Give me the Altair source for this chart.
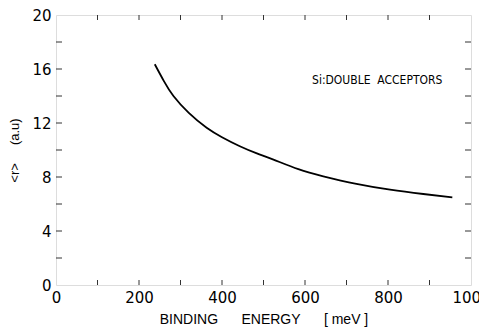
import altair as alt
import pandas as pd

# Curve
energy = [238, 260, 283, 320, 363, 400, 443, 484, 524, 584, 644, 724, 805, 885, 955]
radius = [16.35, 15.1, 14.0, 12.75, 11.65, 10.95, 10.28, 9.75, 9.29, 8.58, 8.05, 7.49, 7.06, 6.74, 6.49]

x_labels = [0, 200, 400, 600, 800, 1000]
y_labels = [0, 4, 8, 12, 16, 20]
x_ticks = [100, 200, 300, 400, 500, 600, 700, 800, 900]
y_ticks = [2, 4, 6, 8, 10, 12, 14, 16, 18]

note_text = ["Si:DOUBLE  ACCEPTORS"]
note_x = [617]
note_y = [15.2]

NB = "\u00a0"
x_title = "BINDING" + NB * 6 + "ENERGY" + NB * 6 + "[" + NB + "meV" + NB + "]"
y_title = "<r>" + NB * 5 + "(a.u)"

W, H = 415, 270
FONT = "Liberation Sans"
NUMFONT = "DejaVu Sans"

xs = alt.Scale(domain=[0, 1000], nice=False, zero=False)
ys = alt.Scale(domain=[0, 20], nice=False, zero=False)

curve_df = pd.DataFrame({"E": energy, "r": radius})
xt_df = pd.DataFrame({"E": x_ticks})
yt_df = pd.DataFrame({"r": y_ticks})
note_df = pd.DataFrame({"E": note_x, "r": note_y, "t": [t.replace("  ", NB + NB) for t in note_text]})

xaxis = alt.Axis(values=x_labels, format="d", ticks=False, domain=False, grid=False,
                 labelFontSize=15, labelFont=NUMFONT, labelColor="black",
                 labelPadding=5, labelFlush=False,
                 title=x_title, titleFont=FONT,
                 titleFontSize=14, titleFontWeight="normal", titleColor="black",
                 titlePadding=7)
yaxis = alt.Axis(values=y_labels, format="d", ticks=False, domain=False, grid=False,
                 labelFontSize=15, labelFont=NUMFONT, labelColor="black",
                 labelPadding=5, labelFlush=False,
                 title=y_title, titleFont=FONT, titleFontSize=13,
                 titleFontWeight="normal", titleColor="black", titlePadding=10)

line = alt.Chart(curve_df).mark_line(color="black", strokeWidth=1.8,
                                     interpolate="natural").encode(
    x=alt.X("E:Q", scale=xs, axis=xaxis),
    y=alt.Y("r:Q", scale=ys, axis=yaxis),
)

note = alt.Chart(note_df).mark_text(align="left", baseline="middle",
                                    font="DejaVu Sans Condensed, Liberation Sans", fontSize=12,
                                    color="black").encode(
    x=alt.X("E:Q", scale=xs), y=alt.Y("r:Q", scale=ys), text="t:N")

tick_style = dict(color="#333", strokeWidth=1)
bottom = alt.Chart(xt_df).mark_rule(**tick_style).encode(
    x=alt.X("E:Q", scale=xs), y=alt.value(H), y2=alt.value(H - 5))
top = alt.Chart(xt_df).mark_rule(**tick_style).encode(
    x=alt.X("E:Q", scale=xs), y=alt.value(0), y2=alt.value(5))
left = alt.Chart(yt_df).mark_rule(**tick_style).encode(
    y=alt.Y("r:Q", scale=ys), x=alt.value(0), x2=alt.value(6))
right = alt.Chart(yt_df).mark_rule(**tick_style).encode(
    y=alt.Y("r:Q", scale=ys), x=alt.value(W), x2=alt.value(W - 6))

chart = alt.layer(line, note, bottom, top, left, right).properties(
    width=W, height=H,
    autosize=alt.AutoSizeParams(type="none"),
    padding={"left": 56, "top": 15, "right": 8, "bottom": 48},
).configure_view(stroke="#333", strokeWidth=1.2).configure(background="white")

chart.save("out.html", embed_options={"renderer": "svg", "actions": False})
